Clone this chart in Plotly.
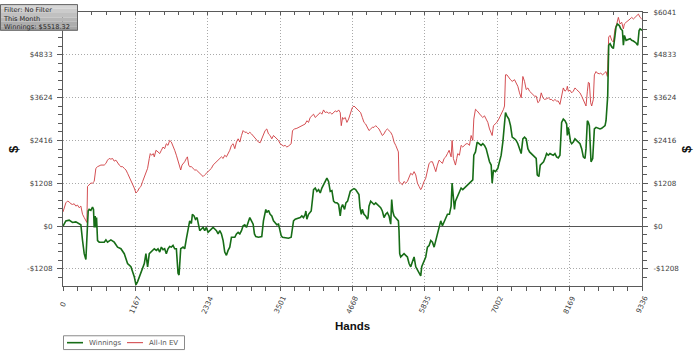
import plotly.graph_objects as go

# ---------------- data ----------------
win_hands = [0,46,99,153,207,261,288,315,342,369,385,406,422,449,476,492,503,519,530,541,557,584,665,692,718,772,826,880,934,988,1041,1095,1149,1176,1203,1257,1311,1337,1364,1391,1418,1472,
1505,1532,1559,1586,1613,1639,1666,1693,1720,1747,1774,1801,1828,1844,1855,1871,1887,1898,1936,1962,1989,2016,2043,2070,2086,2113,2135,2162,2178,2205,2232,2259,2285,2312,2339,2366,2393,2420,2447,2474,2501,2528,2555,2582,2608,2635,2662,2689,2716,2770,2797,2824,2851,2878,2904,2931,2958,2985,3012,3039,3066,
3087,3109,3152,3205,3232,3249,3270,3286,3313,3340,3367,3394,3421,3448,3475,3502,3518,3539,3582,3636,3679,3701,3717,3744,3798,3825,3851,3878,3905,3916,3932,3959,4002,4040,4067,4094,4121,4148,4174,4201,4228,4255,4282,4309,4336,4363,4390,4417,4444,4470,4487,4508,4540,4562,4589,4605,4632,
4665,4692,4719,4746,4772,4789,4810,4826,4853,4880,4907,4918,4934,4961,4988,5015,5042,5069,5095,5122,5149,5176,5203,5230,5257,5284,5300,5316,5338,5365,5392,5408,5418,5429,5445,5472,5499,5526,5553,5580,5607,5634,5661,5688,5715,5741,5768,5784,5806,5822,5849,5876,5903,5930,5957,5984,6011,6037,6064,6091,6118,6145,6172,6199,
6231,6258,6274,6295,6312,6328,6349,6365,6392,6419,6446,6473,6500,6527,6554,6581,6608,6624,6651,6678,6705,6742,6769,6796,6823,6850,6877,6904,6920,6941,6974,7011,7038,7065,7092,7119,7135,7157,7189,7216,7243,7281,7307,7334,7361,7388,7415,7442,7469,7496,7523,7550,7577,7603,7630,7647,7673,7695,7722,7749,7781,
7798,7825,7852,7879,7905,7932,7959,7986,8013,8024,8040,8067,8094,8121,8132,8148,8164,8185,8202,8228,8255,8282,8309,8336,8363,8390,8417,8433,8455,8471,8487,8498,8514,8541,8551,8568,8595,8632,8659,8686,8713,8740,8756,8767,8783,8799,8821,8848,8874,8901,8917,8939,8971,8993,9020,9036,9052,9079,9117,9144,9170,9197,9240,9267,9289,9305,9327,9336]
win_dollars = [0,148,167,102,120,74,37,-407,-778,-944,-222,426,472,444,537,472,-37,287,-37,241,-407,-454,-454,-389,-454,-389,-454,-593,-639,-778,-1056,-1148,-1426,-1657,-1565,-1333,-1056,-778,-1148,-778,-732,-639,
-685,-639,-732,-593,-667,-639,-778,-639,-574,-593,-546,-639,-639,-963,-1333,-1380,-1056,-639,-593,-639,-361,-37,148,74,333,287,194,241,56,-130,-83,-37,-130,-37,-176,-130,-83,-37,-83,-130,-222,-130,-222,-407,-732,-824,-685,-593,-315,-315,-222,-176,-222,-130,9,37,-37,102,241,148,56,
-222,-296,-315,-296,148,333,472,380,444,333,287,148,102,37,56,-130,-269,-315,-333,-343,-315,-37,148,194,222,241,287,241,333,426,194,333,426,1028,1074,982,1028,935,1074,1167,1259,1352,1259,982,1000,704,657,657,611,287,519,611,472,657,704,796,982,
1028,1056,1028,935,889,519,333,472,333,287,194,241,565,704,657,611,657,611,565,519,426,241,333,380,287,56,750,426,287,241,194,148,-130,-778,-870,-824,-778,-824,-870,-1056,-1148,-1009,-870,-1148,-1241,-1333,-1407,-1148,-1056,-963,-870,-593,-546,-407,-454,-593,-407,-222,-37,148,9,102,241,333,
333,565,1213,704,472,704,796,889,982,1074,1028,1074,1120,1167,1213,1259,1306,2000,2093,2371,2324,2278,2324,2278,2185,2000,1815,1722,1213,1583,1537,1630,1815,2000,2371,2880,3204,3111,3019,2834,2510,2463,2417,2324,2185,2046,2463,2510,2463,2185,2093,2046,2000,1954,1908,1445,1398,1722,1769,1815,1954,
2046,2000,2046,2019,2000,2046,1954,1926,2000,2371,2926,3019,2973,2880,2556,2787,2602,2371,2324,2371,2463,2417,2389,2324,2185,1954,1908,2185,2973,2926,2834,2371,1815,1908,2185,2741,2787,2759,2741,2759,2787,2834,2973,3389,3667,5102,5149,5056,5010,5380,5612,5704,5658,5565,5519,5102,5380,5241,5260,5287,5241,5223,5167,5102,5519,5565,5537,5518]

ev_hands = [0,19,46,72,99,126,153,180,207,234,261,288,315,342,369,385,395,422,449,476,503,530,557,611,665,692,718,745,772,799,826,853,880,907,934,961,988,1015,1041,1068,1095,1122,1149,1176,1203,1230,1257,1284,1311,1337,1364,1391,1407,1429,1456,1472,1499,
1532,1559,1586,1613,1639,1666,1693,1720,1747,1774,1801,1828,1855,1882,1898,1919,1962,1989,2006,2027,2043,2070,2097,2124,2151,2178,2205,2232,2259,2285,2312,2339,2366,2393,2420,2447,2474,2501,2528,2555,2582,2608,2635,2662,2689,2716,2743,2770,2797,2824,2851,2878,2904,2931,2958,2985,3012,3039,
3098,3125,3152,3179,3205,3232,3259,3286,3313,3340,3367,3394,3421,3448,3475,3502,3528,3555,3582,3609,3636,3679,3701,3733,3771,3798,3825,3851,3878,3905,3932,3959,3986,4013,4040,4067,4094,4121,4148,4174,4201,4228,4255,4282,4309,4336,4363,4390,4417,4444,4470,4487,4508,4524,4551,4578,4605,
4638,4665,4692,4719,4746,4772,4799,4826,4853,4880,4907,4934,4961,4988,5015,5042,5069,5095,5122,5149,5176,5203,5230,5257,5284,5311,5338,5365,5392,5408,5418,5445,5472,5499,5526,5553,5580,5607,5634,5661,5688,5715,5741,5768,5784,5806,5822,5849,5876,5903,5930,5957,5984,6011,6037,6064,6091,6118,6145,6172,6199,6226,
6258,6274,6295,6312,6328,6349,6365,6392,6419,6446,6473,6500,6527,6554,6581,6608,6624,6651,6678,6715,6742,6769,6796,6823,6850,6877,6904,6920,6941,6968,6995,7027,7054,7081,7103,7119,7135,7157,7189,7216,7243,7281,7307,7334,7361,7388,7415,7442,7469,7496,7523,7550,7577,7603,7630,7657,7684,7711,7738,7765,
7798,7825,7852,7879,7905,7932,7959,7986,8013,8040,8067,8094,8121,8132,8148,8175,8202,8228,8255,8282,8309,8336,8363,8390,8417,8433,8455,8471,8487,8508,8525,8541,8551,8568,8595,8616,8648,8670,8702,8729,8756,8778,8799,8821,8848,8874,8901,8928,8955,8982,9009,9036,9052,9079,9117,9144,9170,9197,9224,9251,9278,9305,9332]
ev_dollars = [400,519,657,704,685,630,611,630,565,593,519,565,333,241,148,102,1120,1167,1213,1213,1259,1630,1676,1722,1722,1769,1861,1908,1889,1908,1833,1861,1769,1722,1676,1676,1630,1583,1491,1398,1259,1213,1074,935,982,1074,1120,1259,1398,1537,1630,1908,2046,2000,2046,1954,2139,
2093,2046,2139,2232,2185,2324,2278,2417,2371,2278,2139,2000,1815,1630,1583,1722,1815,1908,1954,1722,1676,1676,1630,1583,1583,1537,1491,1445,1398,1445,1491,1537,1583,1630,1722,1769,1815,1861,1908,1954,1908,2000,1954,2046,2139,2278,2324,2185,2371,2463,2371,2556,2695,2648,2648,2602,2648,2602,
2463,2417,2371,2352,2463,2602,2695,2741,2602,2556,2463,2556,2509,2463,2417,2324,2278,2259,2278,2232,2259,2324,2695,2741,2759,2787,2815,2834,2852,2880,2973,2926,3065,3111,3158,3065,3111,3158,3204,3158,3278,3204,3222,3185,3204,3158,3204,3250,3222,3278,3204,2834,3065,3019,3065,2926,3019,
3204,3343,3389,3343,3297,3250,3204,3065,2926,2880,2787,2695,2741,2787,2787,2834,2787,2741,2648,2556,2602,2695,2741,2695,2648,2556,2371,2278,2185,2093,1259,1213,1167,1259,1213,1259,1352,1491,1445,1537,1445,1213,1120,1028,1074,1213,1259,1352,1537,1769,1815,1815,1676,1537,1722,1861,1815,1769,1908,1954,2046,2139,
1954,2417,1908,1815,1722,1908,2046,2000,2278,2232,2278,2324,2324,2278,2556,2417,3019,3297,3250,3158,3111,3065,3111,3019,2926,2741,2648,2556,2834,2880,2926,3019,3111,3204,3297,3389,4269,4269,4176,4130,4084,4130,4037,3945,3760,3621,4222,4084,3852,3898,3806,3760,3713,3667,3667,3482,3528,3760,3621,3574,
3593,3621,3574,3574,3528,3574,3528,3528,3435,3713,3898,3806,3852,3945,3806,3834,3760,3806,3898,3852,3806,3760,3667,3574,3482,3389,3806,4056,4037,3482,3389,3482,3574,4269,4361,4315,4297,4315,4269,4315,4361,4222,5334,5380,5241,5195,5565,5704,5889,5704,5750,5565,5704,5750,5797,5843,5889,5843,5889,5936,5982,5889,5843]

series_names = ["Winnings", "All-In EV"]
hand_ticks = [0, 1167, 2334, 3501, 4668, 5835, 7002, 8169, 9336]
dollar_ticks = [-1208, 0, 1208, 2416, 3624, 4833, 6041]
dollar_labels = ["-$1208", "$0", "$1208", "$2416", "$3624", "$4833", "$6041"]
# on the left axis the top label sits under the info box in the reference
left_labels = dollar_labels[:-1] + [""]
info_lines = ["Filter: No Filter", "This Month", "Winnings: $5518.32"]
x_title = "Hands"
y_title = "$"

# ---------------- styling ----------------
W, H = 700, 353
ML, MR, MT, MB = 63, 58, 8, 67
PW, PH = W - ML - MR, H - MT - MB
GREEN = "#176d17"
RED = "#cf3b3f"
AXIS = "#5a5a5a"
GRID = "#a9a9a9"
GRIDDASH = "1px,2px"
TXT = "#404040"
FONT = "DejaVu Sans"
Y_RANGE = [-1690, 6041]
X_RANGE = [0, 9336]


def pxx(x):
    return (x - ML) / PW


def pxy(y):
    return (H - MB - y) / PH


fig = go.Figure()
fig.add_trace(go.Scatter(x=ev_hands, y=ev_dollars, mode="lines", name=series_names[1],
                         line=dict(color=RED, width=0.9), xaxis="x", yaxis="y",
                         showlegend=False, hoverinfo="skip"))
fig.add_trace(go.Scatter(x=win_hands, y=win_dollars, mode="lines", name=series_names[0],
                         line=dict(color=GREEN, width=1.6), xaxis="x2", yaxis="y2",
                         showlegend=False, hoverinfo="skip"))

tickfont = dict(family=FONT, size=7.2, color=TXT)
minor_x = dict(tickmode="linear", tick0=0, dtick=233.4, ticks="outside", ticklen=4,
               tickcolor=AXIS, showgrid=False)
minor_y = dict(tickmode="linear", tick0=0, dtick=241.64, ticks="outside", ticklen=4,
               tickcolor=AXIS, showgrid=False)

fig.update_layout(
    width=W, height=H, autosize=False,
    margin=dict(l=ML, r=MR, t=MT, b=MB, pad=0),
    paper_bgcolor="white", plot_bgcolor="white",
    showlegend=False,
    xaxis=dict(range=X_RANGE, tickmode="array", tickvals=hand_ticks, showticklabels=False,
               ticks="outside", ticklen=4, tickcolor=AXIS, showline=True, linecolor=AXIS,
               linewidth=1, showgrid=True, gridcolor=GRID, griddash=GRIDDASH, gridwidth=1,
               zeroline=False, minor=minor_x, anchor="y"),
    yaxis=dict(range=Y_RANGE, tickmode="array", tickvals=dollar_ticks, ticktext=left_labels,
               tickfont=tickfont, ticks="outside", ticklen=5, tickcolor=AXIS, showline=True,
               linecolor=AXIS, linewidth=1, showgrid=True, gridcolor=GRID, griddash=GRIDDASH,
               gridwidth=1, zeroline=True, zerolinecolor="#555555", zerolinewidth=1,
               minor=minor_y, anchor="x", ticklabelstandoff=3),
    xaxis2=dict(range=X_RANGE, overlaying="x", side="top", anchor="y2", tickmode="array",
                tickvals=hand_ticks, showticklabels=False, ticks="inside", ticklen=3,
                tickcolor=AXIS, showline=True, linecolor=AXIS, linewidth=1, showgrid=False,
                zeroline=False,
                minor=dict(tickmode="linear", tick0=0, dtick=233.4, ticks="inside",
                           ticklen=3, tickcolor=AXIS, showgrid=False)),
    yaxis2=dict(range=Y_RANGE, overlaying="y", side="right", anchor="x2", tickmode="array",
                tickvals=dollar_ticks, ticktext=dollar_labels, tickfont=tickfont,
                ticks="outside", ticklen=5, tickcolor=AXIS, showline=True, linecolor=AXIS,
                linewidth=1, showgrid=False, zeroline=False, minor=minor_y,
                ticklabelstandoff=4),
)

annotations = []
# rotated x tick labels, centred under each tick
for t in hand_ticks:
    annotations.append(dict(x=t, xref="x", y=pxy(305), yref="paper", text=str(t),
                            textangle=-65, showarrow=False, xanchor="center",
                            yanchor="middle", font=dict(family=FONT, size=7.2, color=TXT)))
# axis titles
annotations.append(dict(x=0.5, xref="paper", y=pxy(327), yref="paper", text="<b>%s</b>" % x_title,
                        showarrow=False, xanchor="center", yanchor="middle",
                        font=dict(family="Liberation Sans", size=11.5, color="#111111")))
for xp in (13, 686):
    annotations.append(dict(x=pxx(xp), xref="paper", y=0.5, yref="paper",
                            text="<b>%s</b>" % y_title, textangle=-90, showarrow=False,
                            xanchor="center", yanchor="middle",
                            font=dict(family="Liberation Sans", size=13, color="#111111")))
# info box text (one block, three lines)
annotations.append(dict(x=pxx(1.5), xref="paper", y=pxy(0.5), yref="paper",
                        text="<br>".join(info_lines), align="left", showarrow=False,
                        xanchor="left", yanchor="top", borderpad=0,
                        font=dict(family=FONT, size=6.6, color="#262626")))
# legend text
annotations.append(dict(x=pxx(87), xref="paper", y=pxy(343.5), yref="paper",
                        text=series_names[0], showarrow=False, xanchor="left",
                        yanchor="middle", font=dict(family=FONT, size=7, color="#555555")))
annotations.append(dict(x=pxx(147), xref="paper", y=pxy(343.5), yref="paper",
                        text=series_names[1], showarrow=False, xanchor="left",
                        yanchor="middle", font=dict(family=FONT, size=7, color="#555555")))

shapes = []
# info box with a simple vertical gradient made of bands
band_cols = ["#d6d6d6", "#cbcbcb", "#c0c0c0", "#b6b6b6", "#adadad", "#a6a6a6"]
top, bot = 0, 27
step = (bot - top) / len(band_cols)
for i, c in enumerate(band_cols):
    shapes.append(dict(type="rect", xref="paper", yref="paper", layer="above",
                       x0=pxx(0), x1=pxx(78), y0=pxy(top + step * (i + 1)), y1=pxy(top + step * i),
                       fillcolor=c, line=dict(width=0)))
shapes.append(dict(type="rect", xref="paper", yref="paper", layer="above",
                   x0=pxx(0.5), x1=pxx(77.5), y0=pxy(26.5), y1=pxy(0.5),
                   fillcolor="rgba(0,0,0,0)", line=dict(color="#666666", width=1)))
# legend box
shapes.append(dict(type="rect", xref="paper", yref="paper", x0=pxx(63.5), x1=pxx(184.5),
                   y0=pxy(350.5), y1=pxy(336.5), fillcolor="white",
                   line=dict(color="#8a8a8a", width=1)))
shapes.append(dict(type="line", xref="paper", yref="paper", x0=pxx(67), x1=pxx(83),
                   y0=pxy(343.5), y1=pxy(343.5), line=dict(color=GREEN, width=1.6)))
shapes.append(dict(type="line", xref="paper", yref="paper", x0=pxx(127), x1=pxx(143),
                   y0=pxy(343.5), y1=pxy(343.5), line=dict(color=RED, width=1)))

fig.update_layout(annotations=annotations, shapes=shapes)
fig.write_html("out.html")
